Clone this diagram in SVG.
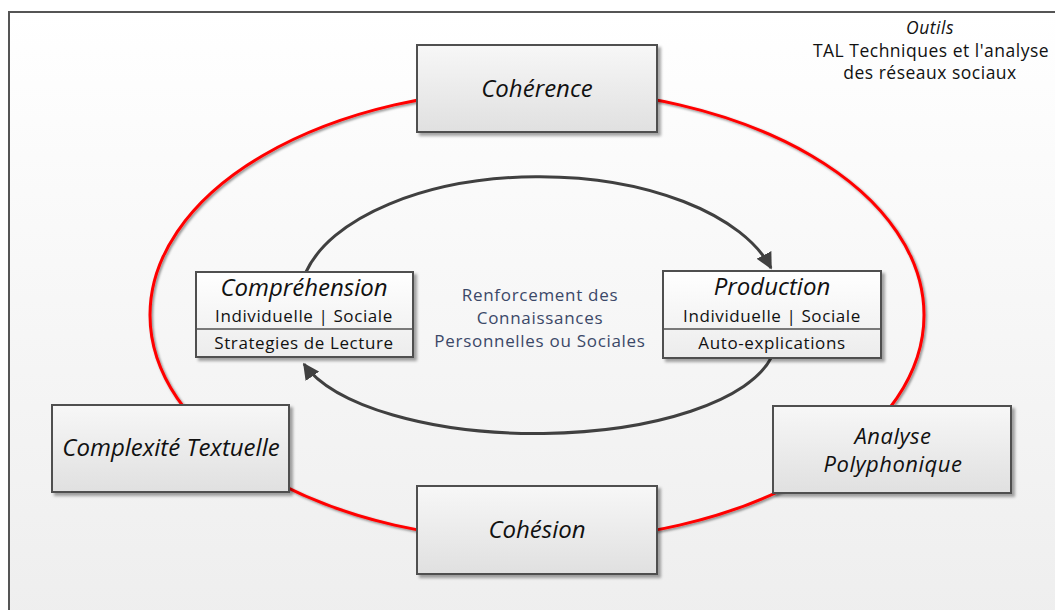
<svg xmlns="http://www.w3.org/2000/svg" width="1055" height="610" viewBox="0 0 1055 610">
  <defs>
    <linearGradient id="bg" x1="0" y1="0" x2="0" y2="1">
      <stop offset="0" stop-color="#ffffff"/>
      <stop offset="1" stop-color="#eeeeee"/>
    </linearGradient>
    <linearGradient id="box" x1="0" y1="0" x2="0" y2="1">
      <stop offset="0" stop-color="#f7f7f7"/>
      <stop offset="1" stop-color="#e0e0e0"/>
    </linearGradient>
    <linearGradient id="box2" x1="0" y1="0" x2="0" y2="1">
      <stop offset="0" stop-color="#ffffff"/>
      <stop offset="1" stop-color="#ececec"/>
    </linearGradient>
    <filter id="sh" x="-10%" y="-10%" width="130%" height="140%">
      <feDropShadow dx="3" dy="3" stdDeviation="1.5" flood-color="#000" flood-opacity="0.35"/>
    </filter>
    <filter id="lsh" x="-5%" y="-5%" width="110%" height="115%">
      <feDropShadow dx="1.5" dy="1.5" stdDeviation="0.8" flood-color="#000" flood-opacity="0.45"/>
    </filter>
    <marker id="ah" viewBox="0 0 10 10" refX="9" refY="5" markerWidth="5.5" markerHeight="5.5" orient="auto" markerUnits="strokeWidth">
      <path d="M0,0 L10,5 L0,10 Z" fill="#404040"/>
    </marker>
    <style>
      .box { fill: url(#box); stroke: #505050; stroke-width: 2; filter: url(#sh); }
      .box2 { fill: url(#box2); stroke: #505050; stroke-width: 2; filter: url(#sh); }
      .div { stroke: #505050; stroke-width: 1.5; }
      .t { font-family: "Open Sans", "Noto Sans", sans-serif; fill: #111; text-anchor: middle; }
      .ti { font-style: italic; font-size: 24px; }
      .ti2 { font-style: italic; font-size: 22px; letter-spacing: 0.5px; }
      .ts { font-size: 17px; letter-spacing: 0.6px; }
      .th { font-size: 17.5px; letter-spacing: 0.5px; }
      .tc { font-family: "Open Sans", "Noto Sans", sans-serif; fill: #3b4868; text-anchor: middle; font-size: 17px; letter-spacing: 0.7px; }
      .arc { fill: none; stroke: #404040; stroke-width: 3; marker-end: url(#ah); }
    </style>
  </defs>

  <rect x="9" y="12" width="1060" height="610" fill="url(#bg)" stroke="#555" stroke-width="2"/>

  <g id="title">
    <text class="t th" x="930" y="34" font-style="italic">Outils</text>
    <text class="t th" x="931" y="57">TAL Techniques et l'analyse</text>
    <text class="t th" x="930" y="79">des réseaux sociaux</text>
  </g>

  <g id="connectors">
    <ellipse cx="537" cy="315" rx="387" ry="226" fill="none" stroke="#ff0000" stroke-width="3" filter="url(#lsh)"/>
    <path class="arc" d="M 306 272 A 240 124 0 0 1 771 268"/>
    <path class="arc" d="M 771 358 A 240 94 0 0 1 304 364"/>
  </g>

  <g id="center-label">
    <text class="tc" x="540" y="301">Renforcement des</text>
    <text class="tc" x="540" y="324">Connaissances</text>
    <text class="tc" x="540" y="347">Personnelles ou Sociales</text>
  </g>

  <g id="coherence">
    <rect class="box" x="417" y="45" width="240" height="87"/>
    <text class="t ti" x="537" y="97">Cohérence</text>
  </g>

  <g id="complexite">
    <rect class="box" x="52" y="405" width="237" height="87"/>
    <text class="t ti" x="171" y="456">Complexité Textuelle</text>
  </g>

  <g id="analyse">
    <rect class="box" x="773" y="406" width="238" height="87"/>
    <text class="t ti2" x="893" y="444">Analyse</text>
    <text class="t ti2" x="893" y="472">Polyphonique</text>
  </g>

  <g id="cohesion">
    <rect class="box" x="417" y="486" width="240" height="88"/>
    <text class="t ti" x="537" y="538">Cohésion</text>
  </g>

  <g id="comprehension">
    <rect class="box2" x="196" y="272" width="217" height="85"/>
    <line class="div" x1="196" y1="329" x2="413" y2="329"/>
    <text class="t ti" x="304" y="296">Compréhension</text>
    <text class="t ts" x="304" y="322">Individuelle | Sociale</text>
    <text class="t ts" x="304" y="349">Strategies de Lecture</text>
  </g>

  <g id="production">
    <rect class="box2" x="663" y="271" width="218" height="87"/>
    <line class="div" x1="663" y1="329" x2="881" y2="329"/>
    <text class="t ti" x="772" y="295">Production</text>
    <text class="t ts" x="772" y="322">Individuelle | Sociale</text>
    <text class="t ts" x="772" y="349">Auto-explications</text>
  </g>
</svg>
